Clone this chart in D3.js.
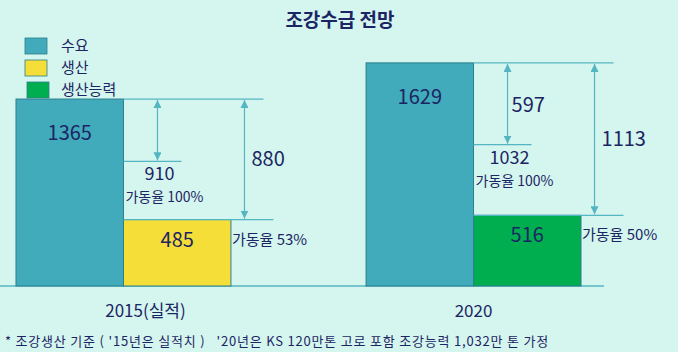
<!DOCTYPE html>
<html>
<head>
<meta charset="utf-8">
<script src="https://cdn.jsdelivr.net/npm/d3@7"></script>
<style>
  body { margin: 0; background: #d5f5ef; }
  text { font-family: "Noto Sans CJK KR", "Noto Sans", sans-serif; fill: #1c2563; }
</style>
</head>
<body>
<div id="chart"></div>
<script>
// data
const years = ["2015(실적)", "2020"];
const demand = [1365, 1629];          // 수요
const supply = [485, 516];            // 생산 (2015), 생산능력 (2020)
const supplyKey = ["생산", "생산능력"];
const capacity = [910, 1032];         // 조강능력
const capacityRate = ["가동율 100%", "가동율 100%"];
const supplyRate = ["가동율 53%", "가동율 50%"];
const smallGapLabel = [null, 597];    // 수요 - 능력
const bigGapLabel = [880, 1113];      // 수요 - 생산
const legendKeys = ["수요", "생산", "생산능력"];

const W = 678, H = 352;
const baseY = 286;

const color = d3.scaleOrdinal()
  .domain(legendKeys)
  .range(["#41abbb", "#f5de38", "#00ae50"]);
const lineColor = "#55b6c3";

const svg = d3.select("#chart").append("svg")
  .attr("width", W)
  .attr("height", H);

svg.append("rect").attr("width", W).attr("height", H).attr("fill", "#d5f5ef");

svg.append("defs").append("marker")
  .attr("id", "arr")
  .attr("viewBox", "0 0 8 8")
  .attr("refX", 8).attr("refY", 4)
  .attr("markerWidth", 8).attr("markerHeight", 8)
  .attr("markerUnits", "userSpaceOnUse")
  .attr("orient", "auto-start-reverse")
  .append("path")
  .attr("d", "M0,0 L8,4 L0,8 z")
  .attr("fill", lineColor);

const x0 = d3.scaleBand().domain(years).range([16, 581]).paddingInner(0.386);
const x1 = d3.scaleBand().domain(["d", "s"]).range([0, x0.bandwidth()]);
const y = d3.scaleLinear().domain([0, 1650]).range([baseY, 60]);

// title
svg.append("text")
  .attr("x", 340).attr("y", 27)
  .attr("text-anchor", "middle")
  .style("font-size", "19px").style("font-weight", "bold")
  .text("조강수급 전망");

// legend
const leg = svg.append("g").selectAll("g")
  .data(legendKeys).enter().append("g")
  .attr("transform", (d, i) => `translate(25,${51 + i * 22})`);
leg.append("rect")
  .attr("x", (d, i) => i === 2 ? 2 : 0)
  .attr("y", -13)
  .attr("width", 22).attr("height", 16)
  .attr("fill", d => color(d))
  .attr("stroke", "#2c7f8c").attr("stroke-width", 0.8);
leg.append("text")
  .attr("x", 36).attr("y", 0)
  .style("font-size", "15px")
  .text(d => d);

// baseline
svg.append("line")
  .attr("x1", 0).attr("x2", 604)
  .attr("y1", baseY).attr("y2", baseY)
  .attr("stroke", lineColor).attr("stroke-width", 1.5);

const groups = svg.selectAll(".grp")
  .data(years.map((yr, i) => ({
    yr, i,
    demand: demand[i], supply: supply[i], key: supplyKey[i],
    cap: capacity[i], capRate: capacityRate[i], supRate: supplyRate[i],
    small: smallGapLabel[i], big: bigGapLabel[i]
  })))
  .enter().append("g")
  .attr("class", "grp")
  .attr("transform", d => `translate(${x0(d.yr)},0)`);

const bw = x1.bandwidth();
const right = x1("d") + bw;   // right edge of demand bar

function hline(g, yv, xa, xb) {
  g.append("line")
    .attr("x1", xa).attr("x2", xb)
    .attr("y1", y(yv)).attr("y2", y(yv))
    .attr("stroke", lineColor).attr("stroke-width", 1.2);
}
function arrow(g, xa, ya, yb) {
  g.append("line")
    .attr("x1", xa).attr("x2", xa)
    .attr("y1", y(ya) + 1).attr("y2", y(yb) - 1)
    .attr("stroke", lineColor).attr("stroke-width", 1.2)
    .attr("marker-start", "url(#arr)")
    .attr("marker-end", "url(#arr)");
}

groups.each(function(d) {
  const g = d3.select(this);

  // bars
  g.append("rect")
    .attr("x", x1("d")).attr("width", bw)
    .attr("y", y(d.demand)).attr("height", baseY - y(d.demand))
    .attr("fill", color("수요")).attr("stroke", "#2c7f8c").attr("stroke-width", 1);
  g.append("rect")
    .attr("x", x1("s")).attr("width", bw)
    .attr("y", y(d.supply)).attr("height", baseY - y(d.supply))
    .attr("fill", color(d.key)).attr("stroke", "#2c7f8c").attr("stroke-width", 1);

  g.append("text")
    .attr("x", x1("d") + bw / 2).attr("y", y(d.demand) + 41)
    .attr("text-anchor", "middle").style("font-size", "20px")
    .text(d.demand);
  g.append("text")
    .attr("x", x1("s") + bw / 2).attr("y", y(d.supply) + 27)
    .attr("text-anchor", "middle").style("font-size", "20px")
    .text(d.supply);

  // reference lines
  hline(g, d.demand, right, right + 140);
  hline(g, d.cap, right, right + 58);
  hline(g, d.supply, right, right + 150);

  // arrows
  arrow(g, right + 34, d.demand, d.cap);
  arrow(g, right + 121, d.demand, d.supply);

  // capacity labels
  g.append("text")
    .attr("x", right + 36).attr("y", y(d.cap) + 19)
    .attr("text-anchor", "middle").style("font-size", "18px")
    .text(d.cap);
  g.append("text")
    .attr("x", right + 2).attr("y", y(d.cap) + 41)
    .style("font-size", "14px")
    .text(d.capRate);

  // gap labels
  if (d.small != null) {
    g.append("text")
      .attr("x", right + 38).attr("y", (y(d.demand) + y(d.cap)) / 2 + 8)
      .style("font-size", "20px")
      .text(d.small);
  }
  g.append("text")
    .attr("x", right + 128).attr("y", (y(d.demand) + y(d.supply)) / 2 + 7)
    .style("font-size", "20px")
    .text(d.big);

  // supply rate
  g.append("text")
    .attr("x", x1("s") + bw + 1).attr("y", y(d.supply) + 25)
    .style("font-size", "15px")
    .text(d.supRate);

  // category label
  g.append("text")
    .attr("x", x0.bandwidth() / 2 + (d.i === 0 ? 22 : 0)).attr("y", 317)
    .attr("text-anchor", "middle").style("font-size", "17px")
    .text(d.yr);
});

// footnote
svg.append("text")
  .attr("x", 5).attr("y", 346)
  .style("font-size", "13px")
  .style("letter-spacing", "0.8px")
  .attr("xml:space", "preserve")
  .text("* 조강생산 기준 ( '15년은 실적치 )   '20년은 KS 120만톤 고로 포함 조강능력 1,032만 톤 가정");
</script>
</body>
</html>
